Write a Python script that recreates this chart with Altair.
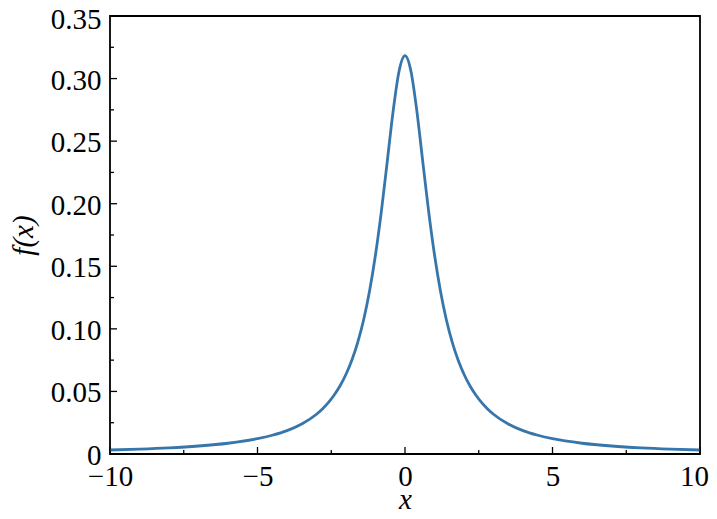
import altair as alt
import pandas as pd

# Curve values
xs = [-10, -9, -8, -7, -6, -5, -4.5, -4, -3.5, -3, -2.8, -2.6, -2.4, -2.2, -2, -1.8, -1.6, -1.4, -1.2, -1,
      -0.8, -0.6, -0.4, -0.2, 0, 0.2, 0.4, 0.6, 0.8, 1, 1.2, 1.4, 1.6, 1.8, 2, 2.2, 2.4, 2.6, 2.8, 3,
      3.5, 4, 4.5, 5, 6, 7, 8, 9, 10]
ys = [0.0032, 0.0039, 0.0049, 0.0064, 0.0086, 0.0122, 0.0150, 0.0187, 0.0240, 0.0318, 0.0360, 0.0410,
      0.0471, 0.0545, 0.0637, 0.0751, 0.0894, 0.1075, 0.1305, 0.1592, 0.1941, 0.2341, 0.2744, 0.3061,
      0.3183, 0.3061, 0.2744, 0.2341, 0.1941, 0.1592, 0.1305, 0.1075, 0.0894, 0.0751, 0.0637, 0.0545,
      0.0471, 0.0410, 0.0360, 0.0318, 0.0240, 0.0187, 0.0150, 0.0122, 0.0086, 0.0064, 0.0049, 0.0039,
      0.0032]

x_major = [-10, -5, 0, 5, 10]
x_minor = [-7.5, -2.5, 2.5, 7.5]
y_major = [0, 0.05, 0.10, 0.15, 0.20, 0.25, 0.30, 0.35]
y_minor = [0.025, 0.075, 0.125, 0.175, 0.225, 0.275, 0.325]

W, H = 590, 438
FONT = "Liberation Serif"

xscale = alt.Scale(domain=[-10, 10], nice=False, zero=False)
yscale = alt.Scale(domain=[0, 0.35], nice=False)

df = pd.DataFrame({"x": xs, "y": ys})

line = alt.Chart(df).mark_line(color="#3776ab", strokeWidth=2.8, interpolate="monotone",
                               strokeJoin="round").encode(
    x=alt.X("x:Q", scale=xscale,
            axis=alt.Axis(values=x_major, title="x", titleFontStyle="italic", titleFont=FONT,
                          titleFontSize=29, titleFontWeight="normal", titlePadding=-6,
                          labelFont=FONT, labelFontSize=29, labelPadding=8, tickSize=0,
                          domain=False, grid=False, labelColor="black", titleColor="black",
                          labelFlush=False, labelOverlap=False,
                          labelOffset={"condition": {"test": "datum.value == 10", "value": -6}, "value": 0},
                          labelExpr="datum.value == 0 ? '0' : replace(format(datum.value, 'd'), '-', '\u2212')")),
    y=alt.Y("y:Q", scale=yscale,
            axis=alt.Axis(values=y_major, title="f(x)", titleFontStyle="italic", titleFont=FONT,
                          titleFontSize=29, titleFontWeight="normal", titlePadding=12,
                          labelFont=FONT, labelFontSize=29, labelPadding=9, tickSize=0,
                          domain=False, grid=False, labelColor="black", titleColor="black",
                          labelFlush=False, labelOverlap=False,
                          labelOffset={"condition": {"test": "datum.value > 0.34", "value": 3}, "value": 1.5},
                          labelExpr="datum.value == 0 ? '0' : format(datum.value, '.2f')")),
)

def xticks(vals, length):
    return alt.Chart(pd.DataFrame({"t": vals})).mark_rule(color="black", strokeWidth=1.3).encode(
        x=alt.X("t:Q", scale=xscale), y=alt.value(H), y2=alt.value(H - length))

def yticks(vals, length):
    return alt.Chart(pd.DataFrame({"t": vals})).mark_rule(color="black", strokeWidth=1.3).encode(
        y=alt.Y("t:Q", scale=yscale), x=alt.value(0), x2=alt.value(length))

chart = alt.layer(
    line,
    xticks(x_major, 7), xticks(x_minor, 4),
    yticks(y_major, 7), yticks(y_minor, 4),
).properties(
    width=W, height=H,
    background="white",
    autosize=alt.AutoSizeParams(type="none"),
    padding={"left": 102, "top": 8, "right": 9, "bottom": 56},
).configure_view(stroke="black", strokeWidth=1.8)

chart.save("out.html", embed_options={"renderer": "svg", "actions": False})
